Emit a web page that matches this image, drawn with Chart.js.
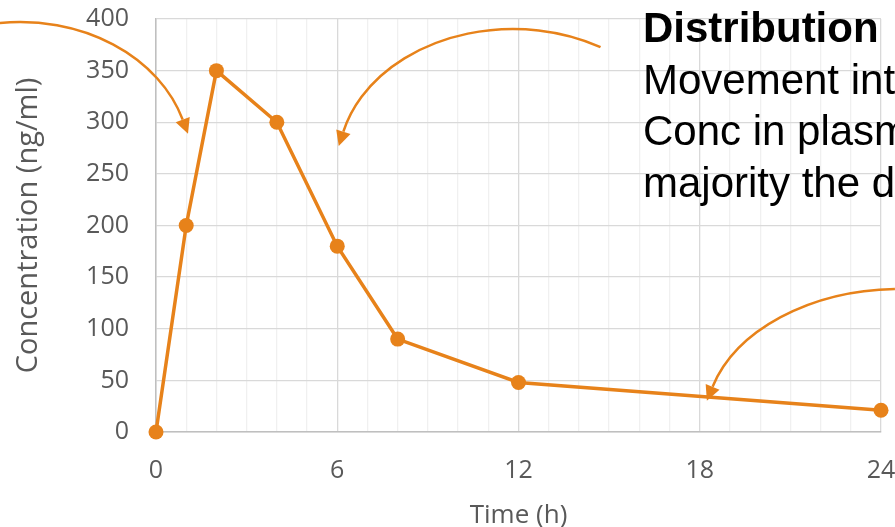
<!DOCTYPE html>
<html>
<head>
<meta charset="utf-8">
<script src="https://cdn.jsdelivr.net/npm/chart.js@4"></script>
<style>
  html, body { margin: 0; padding: 0; background: #fff; }
  #wrap { width: 895px; height: 527px; }
</style>
</head>
<body>
<div id="wrap"><canvas id="myChart"></canvas></div>
<script>
// time after dose (h) and plasma concentration (ng/ml)
const hours = [0, 1, 2, 4, 6, 8, 12, 24];
const conc  = [0, 200, 350, 300, 180, 90, 48, 21];

const xLabelTicks = [0, 6, 12, 18, 24];
const yMax = 400;
const yStep = 50;

const noteLines = ['Distribution', 'Movement into', 'Conc in plasma', 'majority the drug'];

const orange = '#E7821A';

// curved arrows, given as ellipse arcs in data units (angles in degrees)
const arrows = [
  { cx: -4.5,  cy: 263.4, rx: 5.63,  ry: 133.7, a0: -96.8, a1: -17,   ccw: false },
  { cx: 11.82, cy: 259.1, rx: 5.79,  ry: 131.2, a0: -60,   a1: -166,  ccw: true },
  { cx: 24.63, cy: 7.75,  rx: 6.455, ry: 130.8, a0: -91.5, a1: -164,  ccw: true }
];
const noteAt = { x: 16.12, y: 377.7 };

const annotate = {
  id: 'annotate',
  afterDraw(chart) {
    const ctx = chart.ctx;
    const xs = chart.scales.x, ys = chart.scales.y;
    ctx.save();
    ctx.strokeStyle = orange;
    ctx.fillStyle = orange;
    ctx.lineWidth = 2.5;
    arrows.forEach(a => {
      const px = xs.getPixelForValue(a.cx), py = ys.getPixelForValue(a.cy);
      const prx = xs.getPixelForValue(a.cx + a.rx) - px;
      const pry = py - ys.getPixelForValue(a.cy + a.ry);
      const r0 = a.a0 * Math.PI / 180, r1 = a.a1 * Math.PI / 180;
      ctx.beginPath();
      ctx.ellipse(px, py, prx, pry, 0, r0, r1, a.ccw);
      ctx.stroke();
      const ex = px + prx * Math.cos(r1), ey = py + pry * Math.sin(r1);
      let dx = -prx * Math.sin(r1), dy = pry * Math.cos(r1);
      if (a.ccw) { dx = -dx; dy = -dy; }
      const len = Math.hypot(dx, dy);
      dx /= len; dy /= len;
      const head = 15, half = 7.5;
      ctx.beginPath();
      ctx.moveTo(ex + dx * head, ey + dy * head);
      ctx.lineTo(ex - dy * half, ey + dx * half);
      ctx.lineTo(ex + dy * half, ey - dx * half);
      ctx.closePath();
      ctx.fill();
    });

    ctx.fillStyle = '#000';
    ctx.textAlign = 'left';
    ctx.textBaseline = 'alphabetic';
    const tx = xs.getPixelForValue(noteAt.x);
    let ty = ys.getPixelForValue(noteAt.y);
    noteLines.forEach((line, i) => {
      ctx.font = (i === 0 ? 'bold ' : '') + '42px "Liberation Sans", Arial, sans-serif';
      ctx.fillText(line, tx, ty);
      ty += 51.5;
    });
    ctx.restore();
  }
};

const data = {
  datasets: [{
    label: 'Concentration',
    data: hours.map((h, i) => ({ x: h, y: conc[i] })),
    borderColor: orange,
    backgroundColor: orange,
    borderWidth: 3.5,
    pointRadius: 7.5,
    pointHoverRadius: 7.5,
    pointBorderWidth: 0,
    tension: 0,
    clip: false
  }]
};

const config = {
  type: 'line',
  data: data,
  plugins: [annotate],
  options: {
    responsive: true,
    maintainAspectRatio: false,
    animation: false,
    layout: { padding: { left: 0, top: 19, right: 14, bottom: 0 } },
    plugins: {
      legend: { display: false },
      tooltip: { enabled: false }
    },
    scales: {
      x: {
        type: 'linear',
        min: 0,
        max: 24,
        afterFit: s => {
          s.height = 95;
          s.paddingLeft = 0; s.paddingRight = 0; s.paddingTop = 0; s.paddingBottom = 0;
        },
        ticks: {
          stepSize: 1,
          autoSkip: false,
          maxRotation: 0,
          padding: 24,
          color: '#595959',
          font: { family: '"Open Sans"', size: 25 },
          callback: v => xLabelTicks.includes(v) ? String(v) : ''
        },
        grid: {
          drawTicks: false,
          lineWidth: 1.3,
          color: c => (c.tick && c.tick.value % 6 === 0) ? '#D9D9D9' : '#F0F0F0'
        },
        border: { color: '#BFBFBF', width: 1.5 },
        title: {
          display: true,
          text: 'Time (h)',
          color: '#595959',
          font: { family: '"Open Sans"', size: 26, lineHeight: 0.9 },
          padding: { top: 0, bottom: 0 }
        }
      },
      y: {
        min: 0,
        max: yMax,
        afterFit: s => {
          s.width = 156;
          s.paddingLeft = 0; s.paddingRight = 0; s.paddingTop = 0; s.paddingBottom = 0;
        },
        ticks: {
          stepSize: yStep,
          padding: 27,
          color: '#595959',
          font: { family: '"Open Sans"', size: 25 }
        },
        grid: {
          drawTicks: false,
          lineWidth: 1.3,
          color: '#D9D9D9'
        },
        border: { color: '#BFBFBF', width: 1.5 },
        title: {
          display: true,
          text: 'Concentration (ng/ml)',
          color: '#595959',
          font: { family: '"Open Sans"', size: 29, lineHeight: 1.2 },
          padding: { top: 11, bottom: 0 }
        }
      }
    }
  }
};

const myChart = new Chart(document.getElementById('myChart'), config);
</script>
</body>
</html>
